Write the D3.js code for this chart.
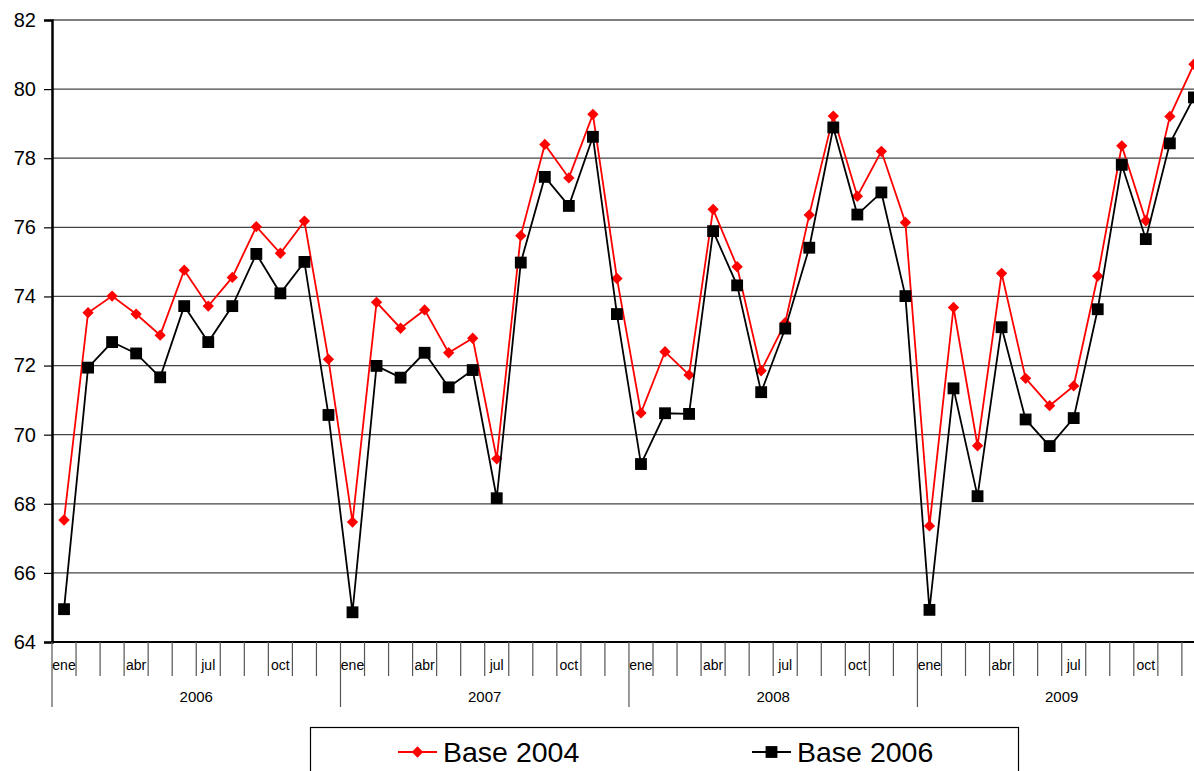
<!DOCTYPE html>
<html>
<head>
<meta charset="utf-8">
<script src="https://cdn.jsdelivr.net/npm/d3@7"></script>
<style>
  body { margin: 0; background: #fff; }
  svg { display: block; font-family: 'Liberation Sans', Arial, sans-serif; }
</style>
</head>
<body>
<div id="chart"></div>
<script>
const years = ['2006', '2007', '2008', '2009']
const months = ['ene', 'feb', 'mar', 'abr', 'may', 'jun', 'jul', 'ago', 'sep', 'oct', 'nov', 'dic']
const shownMonths = ['ene', 'abr', 'jul', 'oct']
const yTicks = [64, 66, 68, 70, 72, 74, 76, 78, 80, 82]

const base2004 = [
  67.53, 73.53, 74.01, 73.49, 72.88, 74.76, 73.72, 74.55, 76.02, 75.25, 76.18, 72.18,
  67.47, 73.83, 73.08, 73.61, 72.37, 72.79, 69.30, 75.76, 78.40, 77.43, 79.27, 74.52,
  70.63, 72.40, 71.73, 76.52, 74.86, 71.85, 73.24, 76.36, 79.22, 76.90, 78.20, 76.14,
  67.36, 73.68, 69.68, 74.67, 71.63, 70.84, 71.41, 74.59, 78.36, 76.19, 79.21, 80.72
]
const base2006 = [
  64.95, 71.94, 72.68, 72.35, 71.66, 73.72, 72.68, 73.72, 75.23, 74.09, 75.00, 70.57,
  64.86, 71.99, 71.65, 72.37, 71.37, 71.87, 68.16, 74.98, 77.46, 76.62, 78.62, 73.49,
  69.15, 70.62, 70.60, 75.89, 74.32, 71.23, 73.07, 75.41, 78.89, 76.37, 77.01, 74.01,
  64.93, 71.34, 68.22, 73.11, 70.44, 69.67, 70.48, 73.63, 77.81, 75.66, 78.43, 79.76
]

const width = 1194
const height = 771
const margins = { top: 20, left: 52, bottom: 129 }
const monthWidth = 24.04

// every month of every year, as one category per point
const periods = years.flatMap(y => months.map(m => `${m} ${y}`))

const x = d3.scaleBand()
  .domain(periods)
  .range([margins.left, margins.left + monthWidth * periods.length])

const y = d3.scaleLinear()
  .domain([64, 82])
  .range([height - margins.bottom, margins.top])

const svg = d3.select('#chart')
  .append('svg')
  .attr('width', width)
  .attr('height', height)

const plotBottom = y(64)

// gridlines
svg.append('g')
  .selectAll('line')
  .data(yTicks.slice(1))
  .enter()
  .append('line')
  .attr('x1', margins.left)
  .attr('x2', width)
  .attr('y1', d => y(d))
  .attr('y2', d => y(d))
  .attr('stroke', d => d === 82 ? '#000' : '#444')
  .attr('stroke-width', 1.2)

// y axis
const yAxis = svg.append('g')
  .attr('transform', `translate(${margins.left}, 0)`)
  .call(d3.axisLeft(y).tickValues(yTicks).tickSize(8).tickPadding(8))
yAxis.select('.domain').attr('stroke', '#000').attr('stroke-width', 2.5)
yAxis.selectAll('.tick line').attr('stroke', '#000').attr('stroke-width', 1.2)
yAxis.selectAll('text')
  .attr('font-size', 20)
  .attr('fill', '#000')
  .attr('font-family', "'Liberation Sans', Arial, sans-serif")

// x axis line
svg.append('line')
  .attr('x1', margins.left)
  .attr('x2', width)
  .attr('y1', plotBottom)
  .attr('y2', plotBottom)
  .attr('stroke', '#000')
  .attr('stroke-width', 2)

// month ticks, longer at the start of every year
svg.append('g')
  .selectAll('line')
  .data(periods)
  .enter()
  .append('line')
  .attr('x1', d => x(d))
  .attr('x2', d => x(d))
  .attr('y1', plotBottom)
  .attr('y2', d => d.startsWith('ene') ? plotBottom + 65 : plotBottom + 34)
  .attr('stroke', '#555')
  .attr('stroke-width', 1.2)

svg.append('g')
  .selectAll('text')
  .data(periods.filter(d => shownMonths.includes(d.split(' ')[0])))
  .enter()
  .append('text')
  .attr('x', d => x(d) + x.bandwidth() / 2)
  .attr('y', plotBottom + 28)
  .attr('text-anchor', 'middle')
  .attr('font-size', 14)
  .text(d => d.split(' ')[0])

svg.append('g')
  .selectAll('text')
  .data(years)
  .enter()
  .append('text')
  .attr('x', d => x(`jul ${d}`))
  .attr('y', plotBottom + 60)
  .attr('text-anchor', 'middle')
  .attr('font-size', 15)
  .text(d => d)

// series
const cx = (d, i) => x(periods[i]) + x.bandwidth() / 2
const line = d3.line().x(cx).y(d => y(d))

// diamond = square turned 45 degrees
const series = [
  { name: 'Base 2004', values: base2004, color: '#ff0000', size: 64, rotate: 45 },
  { name: 'Base 2006', values: base2006, color: '#000000', size: 140, rotate: 0 }
]

series.forEach(s => {
  const g = svg.append('g')
  g.append('path')
    .datum(s.values)
    .attr('d', line)
    .attr('fill', 'none')
    .attr('stroke', s.color)
    .attr('stroke-width', 1.8)
  g.selectAll('path.mark')
    .data(s.values)
    .enter()
    .append('path')
    .classed('mark', true)
    .attr('transform', (d, i) => `translate(${cx(d, i)}, ${y(d)}) rotate(${s.rotate})`)
    .attr('d', d3.symbol().type(d3.symbolSquare).size(s.size))
    .attr('fill', s.color)
})

// legend
const legend = svg.append('g')
legend.append('rect')
  .attr('x', 310.5)
  .attr('y', 727.5)
  .attr('width', 708)
  .attr('height', 70)
  .attr('fill', '#fff')
  .attr('stroke', '#000')
  .attr('stroke-width', 1.2)

const legendX = [398, 752]
series.forEach((s, i) => {
  const lx = legendX[i]
  const ly = 752
  legend.append('line')
    .attr('x1', lx)
    .attr('x2', lx + 39)
    .attr('y1', ly)
    .attr('y2', ly)
    .attr('stroke', s.color)
    .attr('stroke-width', 2)
  legend.append('path')
    .attr('transform', `translate(${lx + 19.5}, ${ly}) rotate(${s.rotate})`)
    .attr('d', d3.symbol().type(d3.symbolSquare).size(s.size))
    .attr('fill', s.color)
  legend.append('text')
    .attr('x', lx + 45)
    .attr('y', ly + 10)
    .attr('font-size', 28.5)
    .text(s.name)
})
</script>
</body>
</html>
